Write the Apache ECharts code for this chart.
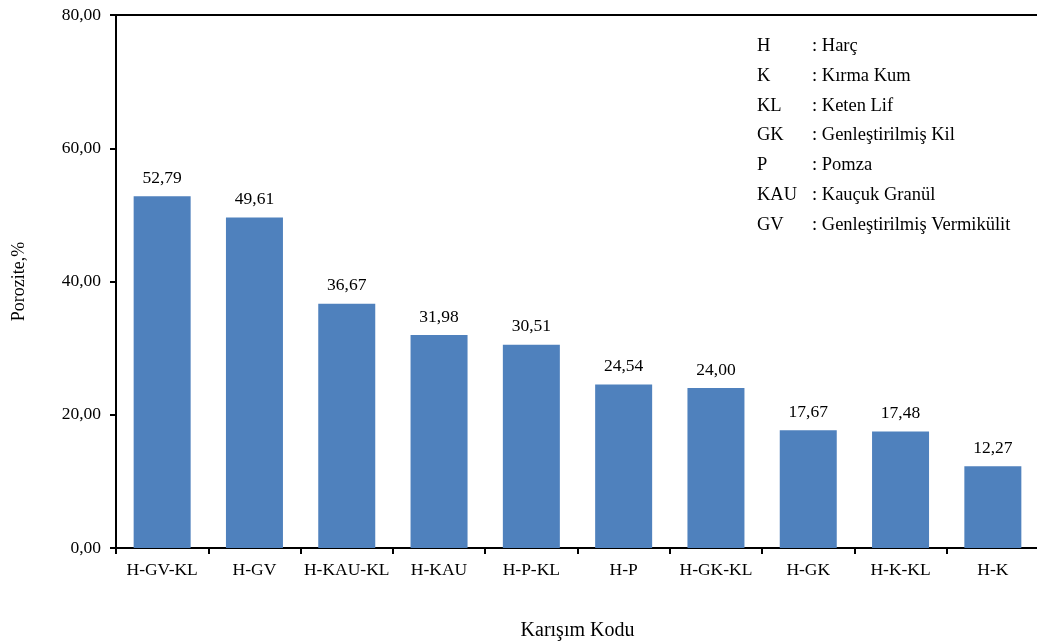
<!DOCTYPE html>
<html>
<head>
<meta charset="utf-8">
<script src="https://cdn.jsdelivr.net/npm/echarts@6/dist/echarts.min.js"></script>
<style>html,body{margin:0;padding:0;background:#fff;}#c{width:1037px;height:644px;}</style>
</head>
<body>
<div id="c"></div>
<script>
const categories = ['H-GV-KL','H-GV','H-KAU-KL','H-KAU','H-P-KL','H-P','H-GK-KL','H-GK','H-K-KL','H-K'];
const porozite = [52.79, 49.61, 36.67, 31.98, 30.51, 24.54, 24.00, 17.67, 17.48, 12.27];
const yTicks = [0, 20, 40, 60, 80];
const legendCodes = ['H','K','KL','GK','P','KAU','GV'];
const legendNames = [': Harç',': Kırma Kum',': Keten Lif',': Genleştirilmiş Kil',': Pomza',': Kauçuk Granül',': Genleştirilmiş Vermikülit'];

const fmt = v => v.toFixed(2).replace('.', ',');
const font = 'Liberation Serif';
const chart = echarts.init(document.getElementById('c'), null, {renderer:'canvas'});

const graphics = [];
legendCodes.forEach((c, i) => {
  graphics.push({type:'text', left:757, top:37 + i*29.7, style:{text:c, font:'18.5px "Liberation Serif"', fill:'#000'}});
  graphics.push({type:'text', left:812, top:37 + i*29.7, style:{text:legendNames[i], font:'18.5px "Liberation Serif"', fill:'#000'}});
});

chart.setOption({
  animation:false,
  textStyle:{fontFamily:font},
  grid:{left:116, top:15, width:923, height:533, show:false, containLabel:false, outerBoundsMode:'none'},
  xAxis:[{
    type:'category', data:categories,
    name:'Karışım Kodu', nameLocation:'middle', nameGap:73,
    nameTextStyle:{fontFamily:font, fontSize:20, color:'#000'},
    axisLine:{lineStyle:{color:'#000', width:2}},
    axisTick:{show:true, interval:0, length:6, lineStyle:{color:'#000', width:2}},
    axisLabel:{interval:0, fontFamily:font, fontSize:17.5, color:'#000', margin:13}
  },{
    type:'category', data:categories, position:'top',
    axisLine:{show:true, lineStyle:{color:'#000', width:2}},
    axisTick:{show:false}, axisLabel:{show:false}
  }],
  yAxis:{
    type:'value', min:0, max:80, interval:20,
    name:'Porozite,%', nameLocation:'middle', nameGap:88,
    nameTextStyle:{fontFamily:font, fontSize:18, color:'#000'},
    axisLine:{show:true, lineStyle:{color:'#000', width:2}},
    axisTick:{show:true, length:6, lineStyle:{color:'#000', width:2}},
    splitLine:{show:false},
    axisLabel:{fontFamily:font, fontSize:17.5, color:'#000', margin:15,
      formatter: v => yTicks.includes(v) ? fmt(v) : ''}
  },
  series:[{
    type:'bar', data:porozite, barWidth:57, xAxisIndex:0,
    itemStyle:{color:'#4f81bd'},
    label:{show:true, position:'top', distance:9, fontFamily:font, fontSize:17.5, color:'#000',
      formatter: p => fmt(p.value)}
  }],
  graphic: graphics
});
</script>
</body>
</html>
